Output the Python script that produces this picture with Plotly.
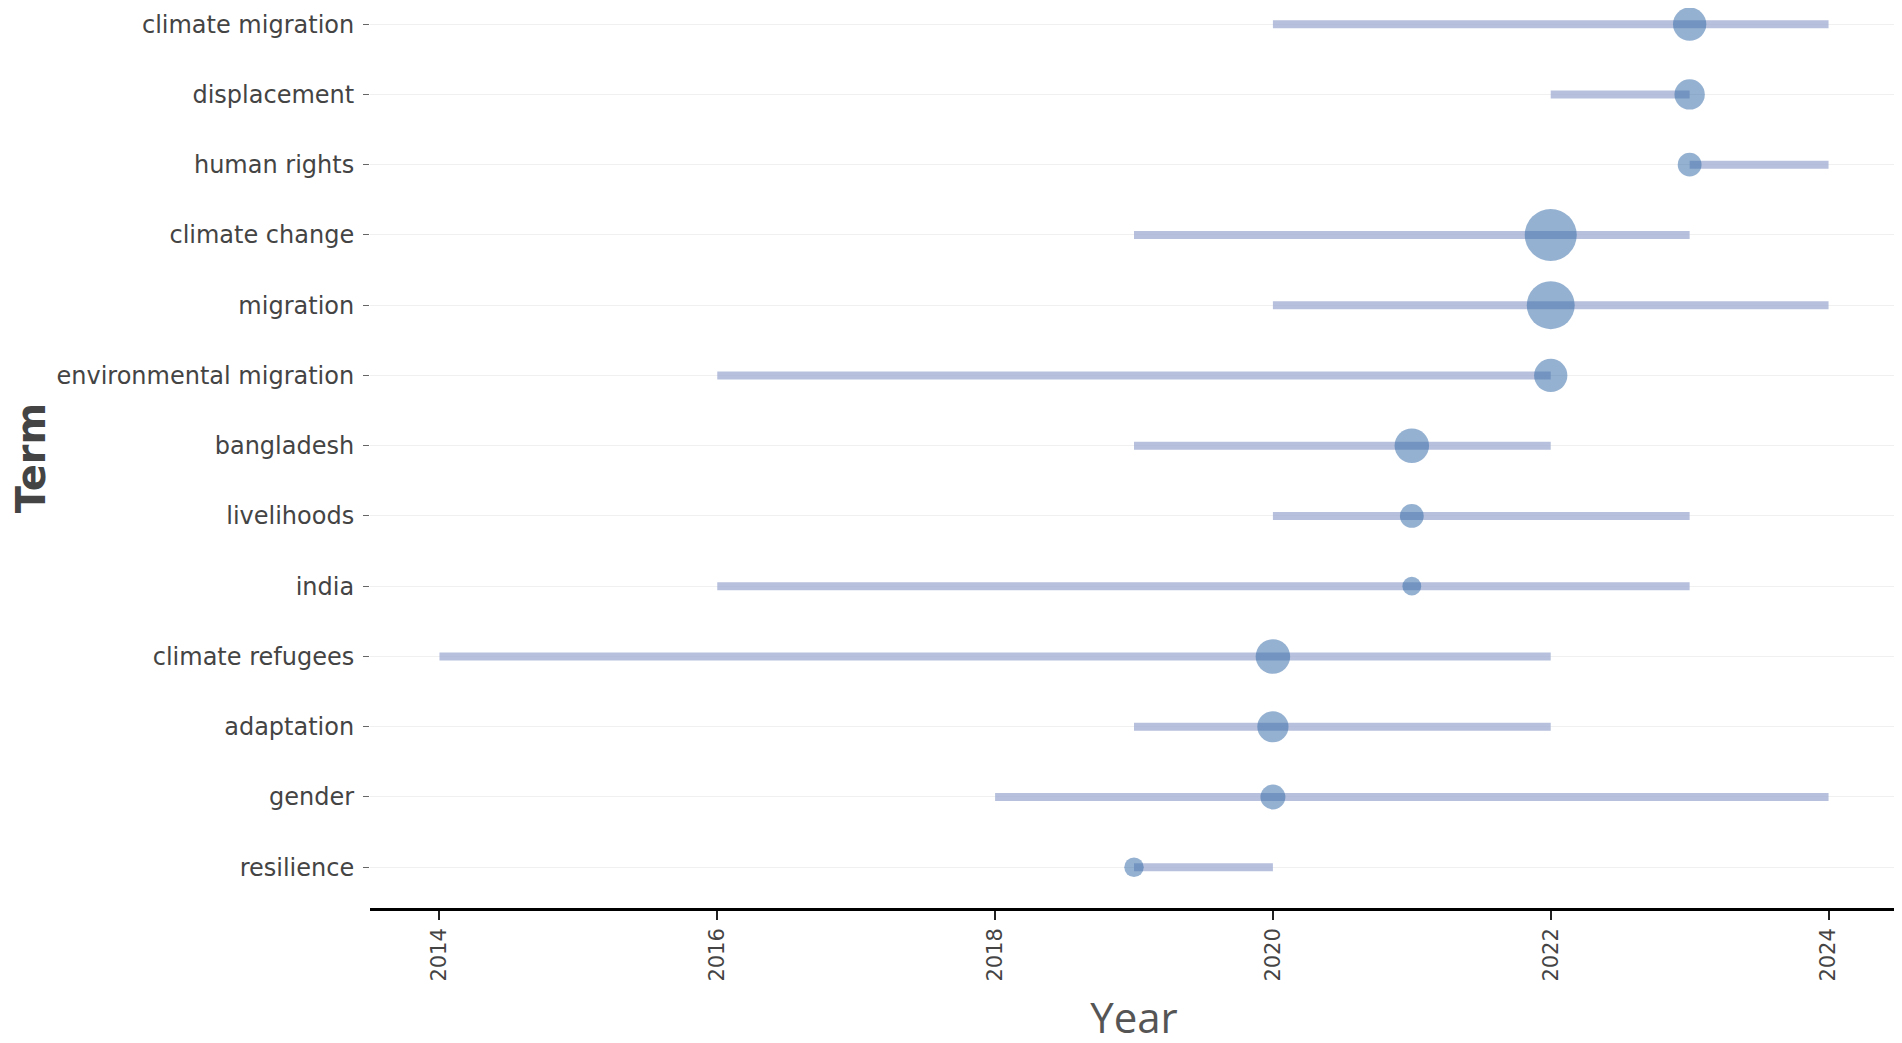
import plotly.graph_objects as go

terms = ["climate migration", "displacement", "human rights", "climate change", "migration",
         "environmental migration", "bangladesh", "livelihoods", "india", "climate refugees",
         "adaptation", "gender", "resilience"]
year_q1 = [2020, 2022, 2023, 2019, 2020, 2016, 2019, 2020, 2016, 2014, 2019, 2018, 2019]
year_med = [2023, 2023, 2023, 2022, 2022, 2022, 2021, 2021, 2021, 2020, 2020, 2020, 2019]
year_q3 = [2024, 2023, 2024, 2023, 2024, 2022, 2022, 2023, 2023, 2022, 2022, 2024, 2020]
freq = [41, 34, 21, 100, 85, 41, 44, 21, 13, 44, 36, 23, 14]
x_ticks = [2014, 2016, 2018, 2020, 2022, 2024]

seg_x, seg_y = [], []
for t, a, b in zip(terms, year_q1, year_q3):
    seg_x += [a, b, None]
    seg_y += [t, t, None]

fig = go.Figure()
fig.add_trace(go.Scatter(
    x=seg_x, y=seg_y, mode="lines",
    line=dict(color="rgba(165,177,212,0.8)", width=8),
    hoverinfo="skip", showlegend=False,
))
fig.add_trace(go.Scatter(
    x=year_med, y=terms, mode="markers",
    marker=dict(size=freq, sizemode="area", sizeref=2 * max(freq) / 52 ** 2,
                color="rgba(56,109,168,0.76)", line=dict(width=0)),
    showlegend=False,
))

font_main = "DejaVu Sans"
fig.update_layout(
    width=1902, height=1043,
    margin=dict(l=362, r=12, t=0, b=143),
    plot_bgcolor="white", paper_bgcolor="white",
    font=dict(family=font_main, color="#444"),
    xaxis=dict(
        range=[2013.5, 2024.5], tickvals=x_ticks, tickangle=-90,
        tickfont=dict(family=font_main, size=21, color="#444"),
        showgrid=False, zeroline=False,
        showline=True, linecolor="black", linewidth=2.5,
        ticks="outside", ticklen=9, tickcolor="#222", tickwidth=1.5,
        title=dict(text="Year", font=dict(family="Open Sans", size=42, color="#555"), standoff=23),
    ),
    yaxis=dict(
        categoryorder="array", categoryarray=terms[::-1],
        range=[-0.58, 12.23],
        tickfont=dict(family=font_main, size=24, color="#444"),
        ticklabelstandoff=4,
        showgrid=True, gridcolor="#f0f0f0", gridwidth=1,
        zeroline=False, showline=False,
        ticks="outside", ticklen=6, tickcolor="#666",
        title=dict(text="<b>Term</b>", font=dict(family=font_main, size=40, color="#444"), standoff=0),
    ),
)

fig.write_html("out.html")
